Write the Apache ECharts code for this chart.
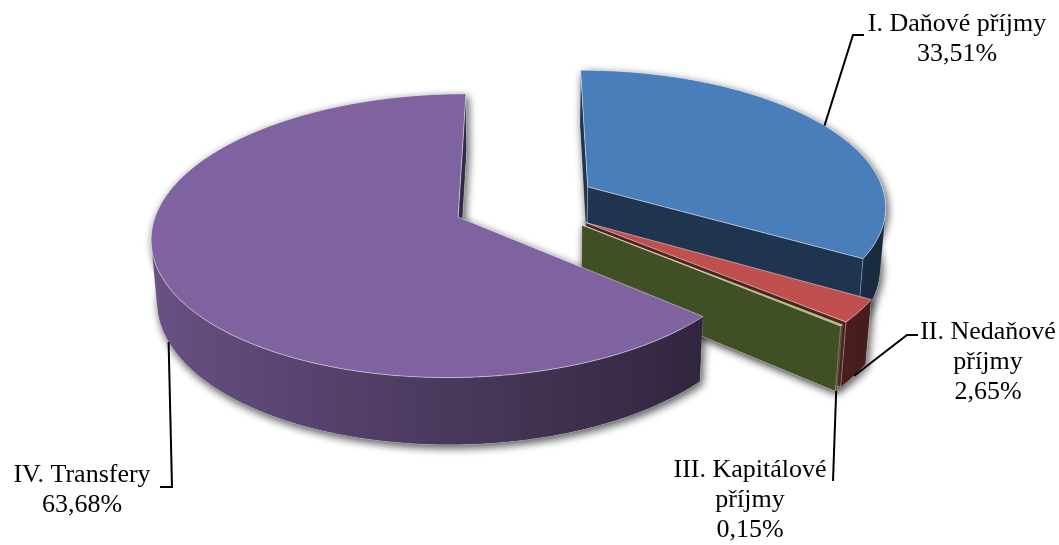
<!DOCTYPE html>
<html><head><meta charset="utf-8">
<script src="https://cdn.jsdelivr.net/npm/echarts@6/dist/echarts.min.js"></script>
<style>html,body{margin:0;padding:0;background:#fff}#c{width:1059px;height:545px}</style>
</head><body><div id="c"></div>
<script>
// ---- data ----
const categories = ['I. Daňové příjmy', 'II. Nedaňové příjmy', 'III. Kapitálové příjmy', 'IV. Transfery'];
const labelLines = [['I. Daňové příjmy'], ['II. Nedaňové', 'příjmy'], ['III. Kapitálové', 'příjmy'], ['IV. Transfery']];
const values = [33.51, 2.65, 0.15, 63.68];
const percentLabels = ['33,51%', '2,65%', '0,15%', '63,68%'];
const colors = ['#4a7ebb', '#c0504d', '#9bbb59', '#7f62a0'];

// ---- 3D projection settings (layout) ----
const ALPHA = 27 * Math.PI / 180, KP = 0.13;
const CA = Math.cos(ALPHA), SA = Math.sin(ALPHA);
const LD = CA / KP;
const FOC = 299 * LD;
const CX = 525.3, CY = 203;
const H = 0.23, EXPLODE = 0.244;
const CAM = [0, -LD * CA, LD * SA];
function proj(X, Y, Z) {
  const yc = Y * SA + Z * CA, zc = LD + Y * CA - Z * SA;
  return [CX + FOC * X / zc, CY - FOC * yc / zc];
}
function shade(hex, f) {
  const n = parseInt(hex.slice(1), 16);
  const r = (n >> 16) & 255, g = (n >> 8) & 255, b = n & 255;
  return 'rgb(' + Math.round(r * f) + ',' + Math.round(g * f) + ',' + Math.round(b * f) + ')';
}
function visible(px, py, nx, ny) { return nx * (CAM[0] - px) + ny * (CAM[1] - py) > 0; }

const TAU = Math.PI * 2;
const total = values.reduce((a, b) => a + b, 0);
const starts = []; let acc = 0;
values.forEach(v => { starts.push(acc / total * TAU); acc += v; });
const ends = values.map((v, i) => starts[i] + v / total * TAU);
const frontDist = values.map((v, i) => {
  const a0 = starts[i], a1 = ends[i];
  if (a0 <= Math.PI && a1 >= Math.PI) return 0;
  return Math.min(Math.abs(a0 - Math.PI), Math.abs(a1 - Math.PI));
});
const order = values.map((v, i) => i).sort((a, b) => frontDist[b] - frontDist[a]);
const rank = []; order.forEach((idx, r) => rank[idx] = r);

const labelLayout = [
  { x: 957, y: 9, path: [[853, 35], [864, 35]] },
  { x: 988, y: 317, path: [[907, 335], [918, 335]] },
  { x: 750, y: 455, path: [[833, 481]] },
  { x: 82, y: 460, path: [[172, 487], [160, 487]] }
];
const FONT = '26px "Liberation Serif", "Times New Roman", serif';

function renderItem(params, api) {
  const i = params.dataIndex;
  const a0 = starts[i], a1 = ends[i], mid = (a0 + a1) / 2;
  const ox = EXPLODE * Math.sin(mid), oy = EXPLODE * Math.cos(mid);
  const rim = (t, z) => proj(ox + Math.sin(t), oy + Math.cos(t), z);
  const ctr = z => proj(ox, oy, z);
  const base = colors[i];
  const children = [];
  const zb = 10 + rank[i] * 10;
  const n = Math.max(2, Math.ceil((a1 - a0) / (0.5 * Math.PI / 180)));
  const topArc = [], botArc = [];
  for (let k = 0; k <= n; k++) {
    const t = a0 + (a1 - a0) * k / n;
    topArc.push(rim(t, 0)); botArc.push(rim(t, -H));
  }
  const sh = { fill: '#fff', shadowBlur: 8, shadowColor: 'rgba(0,0,0,0.4)', shadowOffsetX: 2, shadowOffsetY: 3 };
  [[ctr(0)].concat(topArc), [ctr(-H)].concat(botArc), topArc.concat(botArc.slice().reverse()),
   [ctr(0), topArc[0], botArc[0], ctr(-H)], [ctr(0), topArc[n], botArc[n], ctr(-H)]].forEach(p => {
    children.push({ type: 'polygon', z2: 1, shape: { points: p }, style: sh });
  });
  // outer side: contiguous visible range as one polygon with horizontal gradient
  let k0 = -1, k1 = -1;
  for (let k = 0; k < n; k++) {
    const t = a0 + (a1 - a0) * (k + 0.5) / n;
    const nx = Math.sin(t), ny = Math.cos(t);
    if (visible(ox + nx, oy + ny, nx, ny)) { if (k0 < 0) k0 = k; k1 = k + 1; }
  }
  if (k0 >= 0) {
    const pts = topArc.slice(k0, k1 + 1).concat(botArc.slice(k0, k1 + 1).reverse());
    let xmin = Infinity, xmax = -Infinity;
    pts.forEach(p => { xmin = Math.min(xmin, p[0]); xmax = Math.max(xmax, p[0]); });
    const stops = [];
    for (let k = k0; k <= k1; k++) {
      const t = a0 + (a1 - a0) * k / n;
      const off = xmax > xmin ? (topArc[k][0] - xmin) / (xmax - xmin) : 0;
      stops.push({ offset: Math.min(1, Math.max(0, off)), color: shade(base, 0.58 - 0.26 * Math.sin(t)) });
    }
    stops.sort((a, b) => a.offset - b.offset);
    const fill = { type: 'linear', x: xmin, y: 0, x2: Math.max(xmax, xmin + 1), y2: 0, global: true, colorStops: stops };
    children.push({ type: 'polygon', z2: zb + 1, shape: { points: pts }, style: { fill: fill, stroke: 'rgba(255,255,255,0.25)', lineWidth: 0.6 } });
  }
  const sN = [-Math.cos(a0), Math.sin(a0)], eN = [Math.cos(a1), -Math.sin(a1)];
  const rc = shade(base, 0.42);
  if (visible(ox, oy, sN[0], sN[1]))
    children.push({ type: 'polygon', z2: zb + 2, shape: { points: [ctr(0), topArc[0], botArc[0], ctr(-H)] }, style: { fill: rc, stroke: 'rgba(255,255,255,0.35)', lineWidth: 0.7 } });
  if (visible(ox, oy, eN[0], eN[1]))
    children.push({ type: 'polygon', z2: zb + 2, shape: { points: [ctr(0), topArc[n], botArc[n], ctr(-H)] }, style: { fill: rc, stroke: 'rgba(255,255,255,0.35)', lineWidth: 0.7 } });
  children.push({ type: 'polygon', z2: zb + 3, shape: { points: [ctr(0)].concat(topArc) }, style: { fill: base, stroke: 'rgba(255,255,255,0.55)', lineWidth: 0.8 } });

  // leader line + label
  const anchor = Math.cos(mid) > 0 ? rim(mid, 0) : rim(mid, -H);
  const lay = labelLayout[i];
  children.push({ type: 'polyline', z2: 200, shape: { points: [anchor].concat(lay.path) }, style: { stroke: '#000', lineWidth: 2, fill: null } });
  children.push({ type: 'text', z2: 201, style: {
    text: labelLines[i].concat([percentLabels[i]]).join('\n'), x: lay.x, y: lay.y,
    font: FONT, fill: '#000', align: 'center', verticalAlign: 'top', lineHeight: 30 } });
  return { type: 'group', children: children };
}

const chart = echarts.init(document.getElementById('c'), null, { renderer: 'canvas' });
chart.setOption({
  animation: false,
  backgroundColor: '#fff',
  series: [{
    type: 'custom', coordinateSystem: 'none', silent: true,
    renderItem: renderItem,
    data: values.map((v, i) => ({ name: categories[i], value: v }))
  }]
});
</script></body></html>
